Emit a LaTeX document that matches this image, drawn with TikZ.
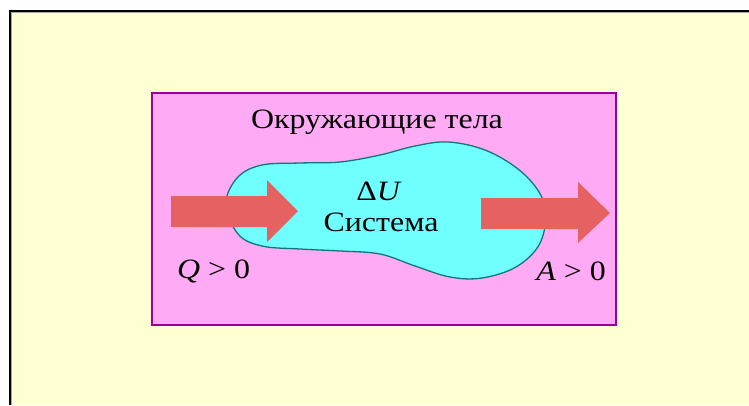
\documentclass[tikz,border=0pt]{standalone}
\usepackage{fontspec}
\setmainfont[FakeStretch=1.14]{Liberation Serif}
\definecolor{bgyellow}{HTML}{FFFFD4}
\definecolor{pinkfill}{HTML}{FFAAF5}
\definecolor{pinkline}{HTML}{990099}
\definecolor{cyanfill}{HTML}{70FFFF}
\definecolor{cyanline}{HTML}{117777}
\definecolor{arrowred}{HTML}{E66262}
\tikzset{
  lbl/.style={inner sep=0pt, anchor=base, font=\fontsize{28}{30}\selectfont},
  bigarrow/.style={fill=arrowred, draw=none}
}
\begin{document}
\begin{tikzpicture}[x=1pt,y=-1pt]
\useasboundingbox (0,0) rectangle (749,405);
\fill[white] (0,0) rectangle (749,405);
\fill[bgyellow] (10,12) rectangle (749,405);
\draw[black, line width=2pt] (9.5,405) -- (9.5,11) -- (749,11);
\draw[gray!70, line width=0.8pt] (11,405) -- (11,12.6) -- (749,12.6);
% surroundings
\draw[fill=pinkfill, draw=pinkline, line width=1.5pt] (152,93) rectangle (616,325);
% system
\draw[fill=cyanfill, draw=cyanline, line width=1.3pt]
  plot[smooth cycle, tension=0.6] coordinates {
   (226,203) (238,177) (262,165) (300,163) (340,162) (380,155) (415,146)
   (448,142) (485,150) (518,169) (539,192) (546,215) (539,245) (516,267)
   (482,278) (450,277) (415,266) (380,254) (340,251) (300,249) (262,246) (238,234)};
% arrows
\fill[bigarrow] (171,196) -- (267,196) -- (267,180) -- (298,211) -- (267,242) -- (267,227) -- (171,227) -- cycle;
\fill[bigarrow] (481,198) -- (578,198) -- (578,182) -- (610,213) -- (578,243) -- (578,229) -- (481,229) -- cycle;
% labels
\node[lbl] (env) at (377,128) {Окружающие тела};
\node[lbl] (dU) at (379,200) {Δ\textit{U}};
\node[lbl] (sys) at (381,231) {Система};
\node[lbl, anchor=base west] (Q) at (177,278) {\textit{Q} > 0};
\node[lbl, anchor=base east] (A) at (606,280) {\textit{A} > 0};
\end{tikzpicture}
\end{document}
